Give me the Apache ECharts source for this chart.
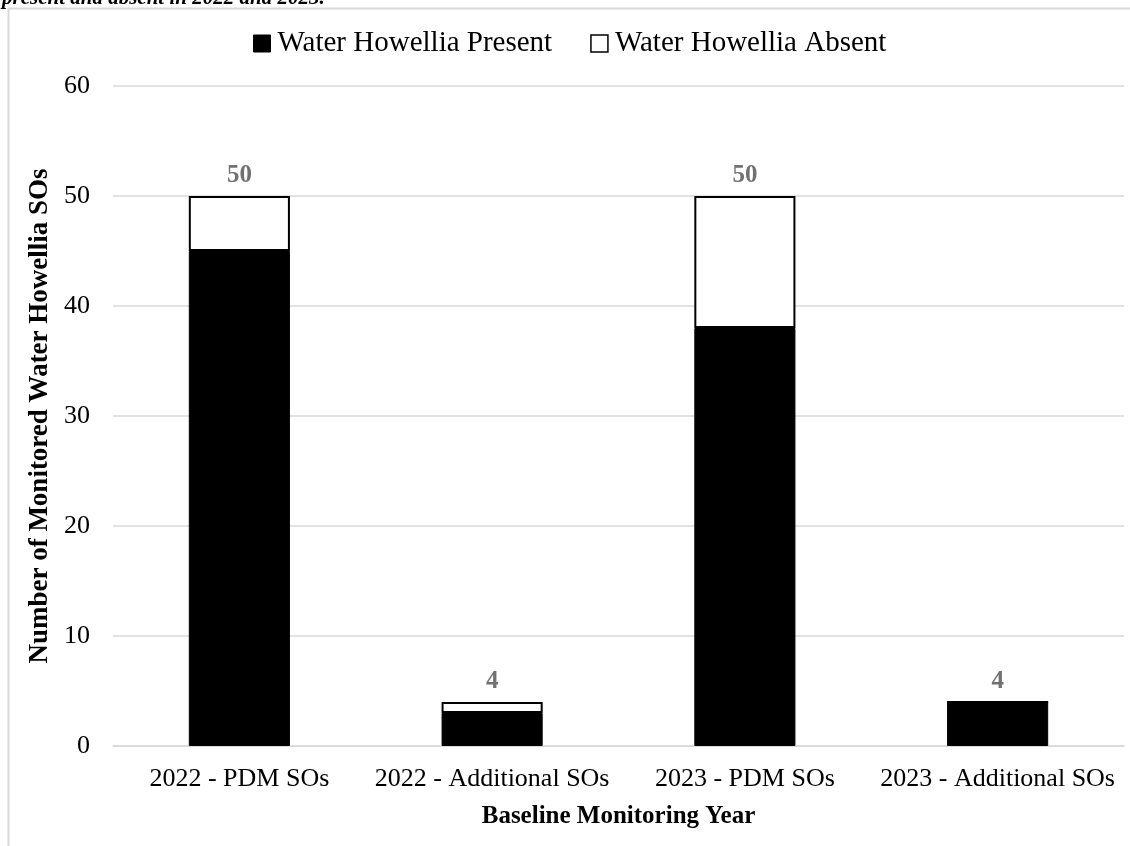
<!DOCTYPE html>
<html>
<head>
<meta charset="utf-8">
<script src="https://cdn.jsdelivr.net/npm/echarts@6/dist/echarts.min.js"></script>
<style>html,body{margin:0;padding:0;background:#fff}#c{width:1130px;height:846px}</style>
</head>
<body>
<div id="c"></div>
<script>
var categories = ['2022 - PDM SOs', '2022 - Additional SOs', '2023 - PDM SOs', '2023 - Additional SOs'];
var presentValues = [45, 3, 38, 4];
var absentValues = [5, 1, 12, 0];
var yTicks = [0, 10, 20, 30, 40, 50, 60];
var totals = presentValues.map(function (v, i) { return v + absentValues[i]; });

var FONT = '"Liberation Serif", "Times New Roman", serif';
var chart = echarts.init(document.getElementById('c'));
chart.setOption({
  animation: false,
  graphic: [
    { type: 'line', shape: { x1: 8, y1: 8.5, x2: 1130, y2: 8.5 }, style: { stroke: '#d9d9d9', lineWidth: 2 } },
    { type: 'line', shape: { x1: 8.5, y1: 8, x2: 8.5, y2: 846 }, style: { stroke: '#d9d9d9', lineWidth: 2 } },
    { type: 'text', left: 2, top: -12, style: { text: 'present and absent in 2022 and 2023.', fontFamily: 'Liberation Serif', fontSize: 21, fontWeight: 'bold', fontStyle: 'italic', fill: '#000' } }
  ],
  legend: {
    top: 24, left: 248,
    itemWidth: 17, itemHeight: 17, itemGap: 38,
    textStyle: { fontFamily: FONT, fontSize: 29, color: '#000', padding: [0, 0, 0, 2] },
    data: [
      { name: 'Water Howellia Present', icon: 'rect', itemStyle: { color: '#000', borderColor: '#000', borderWidth: 1 } },
      { name: 'Water Howellia Absent', icon: 'rect', itemStyle: { color: '#fff', borderColor: '#000', borderWidth: 1.5 } }
    ]
  },
  grid: { left: 113, right: 6, top: 86, bottom: 100 },
  xAxis: {
    type: 'category', data: categories,
    axisLine: { lineStyle: { color: '#d9d9d9', width: 1.5 } },
    axisTick: { show: false },
    axisLabel: { fontFamily: FONT, fontSize: 26, color: '#000', margin: 20, interval: 0 },
    name: 'Baseline Monitoring Year', nameLocation: 'middle', nameGap: 58,
    nameTextStyle: { fontFamily: FONT, fontSize: 25, fontWeight: 'bold', color: '#000' }
  },
  yAxis: {
    type: 'value', min: 0, max: 60, interval: 10,
    axisLine: { show: false }, axisTick: { show: false },
    splitLine: { lineStyle: { color: '#d9d9d9', width: 1.5 } },
    axisLabel: { fontFamily: FONT, fontSize: 26, color: '#000', margin: 23,
      formatter: function (v) { return yTicks.indexOf(v) >= 0 ? String(v) : ''; } },
    name: 'Number of Monitored Water Howellia SOs', nameLocation: 'middle', nameGap: 55,
    nameTextStyle: { fontFamily: FONT, fontSize: 27, fontWeight: 'bold', color: '#000' }
  },
  series: [
    { name: 'Water Howellia Present', type: 'bar', stack: 's', data: presentValues, barWidth: '40%',
      itemStyle: { color: '#000', borderColor: '#000', borderWidth: 1 } },
    { name: 'Water Howellia Absent', type: 'bar', stack: 's', data: absentValues, barWidth: '40%',
      itemStyle: { color: '#fff', borderColor: '#000', borderWidth: 2 } },
    { name: 'Total', type: 'scatter', data: totals, symbolSize: 0, silent: true,
      label: { show: true, position: 'top', distance: 8, fontFamily: FONT, fontSize: 25, fontWeight: 'bold', color: '#4d4d4d' } }
  ]
});
</script>
</body>
</html>
